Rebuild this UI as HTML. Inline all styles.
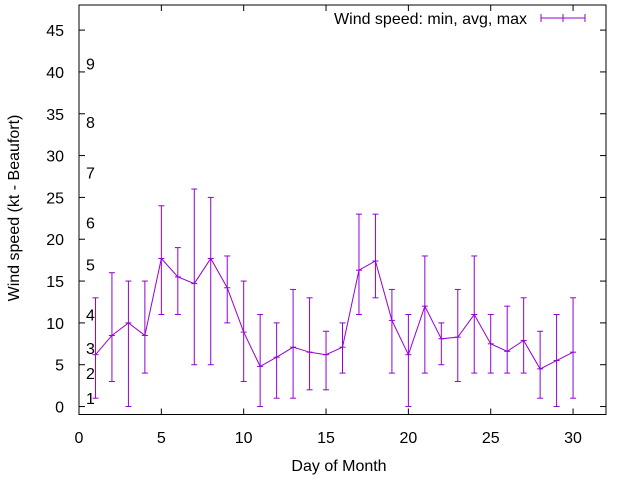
<!DOCTYPE html>
<html><head><meta charset="utf-8"><style>
html,body{margin:0;padding:0;background:#fff;}
svg{display:block;font-family:"Liberation Sans",sans-serif;}
</style></head><body>
<svg id="chart" width="640" height="480" viewBox="0 0 640 480" xmlns="http://www.w3.org/2000/svg">
<rect width="640" height="480" fill="#fff"/>
<g id="grid"></g>
<g id="beaufort"></g>
<g id="series"></g>
<rect x="79" y="5" width="527" height="409.5" fill="none" stroke="#000" stroke-width="1"/>
<text transform="translate(19,208) rotate(-90)" text-anchor="middle" font-size="16" fill="#000">Wind speed (kt - Beaufort)</text>
<text x="339" y="471" text-anchor="middle" font-size="16" fill="#000">Day of Month</text>
<g>
<text x="527" y="24" text-anchor="end" font-size="16" fill="#000">Wind speed: min, avg, max</text>
<line x1="541" y1="18" x2="585" y2="18" stroke="#9400d3" stroke-width="1"/>
<line x1="541" y1="14" x2="541" y2="22" stroke="#9400d3" stroke-width="1"/>
<line x1="585" y1="14" x2="585" y2="22" stroke="#9400d3" stroke-width="1"/>
<line x1="563" y1="14" x2="563" y2="22" stroke="#9400d3" stroke-width="1"/>
</g>
</svg>
<script>
const days = [1,2,3,4,5,6,7,8,9,10,11,12,13,14,15,16,17,18,19,20,21,22,23,24,25,26,27,28,29,30];
const avgSpeed = [6.2,8.5,10,8.5,17.7,15.5,14.7,17.7,14.2,8.9,4.8,5.9,7.1,6.5,6.2,7.1,16.3,17.4,10.3,6.2,12,8.1,8.3,11,7.5,6.6,7.9,4.5,5.5,6.5];
const minSpeed = [1,3,0,4,11,11,5,5,10,3,0,1,1,2,2,4,11,13,4,0,4,5,3,4,4,4,4,1,0,1];
const maxSpeed = [13,16,15,15,24,19,26,25,18,15,11,10,14,13,9,10,23,23,14,11,18,10,14,18,11,12,13,9,11,13];
const xTicks = [0,5,10,15,20,25,30];
const yTicks = [0,5,10,15,20,25,30,35,40,45];
const beaufortLabels = ["1","2","3","4","5","6","7","8","9"];
const beaufortValues = [1,4,7,11,17,22,28,34,41];

const X0=79, X1=606, XMIN=0, XMAX=32;
const Y0=414.5, Y1=5, YMIN=-0.95, YMAX=48;
function xs(v){return X0+(v-XMIN)/(XMAX-XMIN)*(X1-X0);}
function ys(v){return Y0-(v-YMIN)/(YMAX-YMIN)*(Y0-Y1);}
const NS="http://www.w3.org/2000/svg";
function mk(tag,attrs,parent){const e=document.createElementNS(NS,tag);for(const k in attrs)e.setAttribute(k,attrs[k]);parent.appendChild(e);return e;}
const grid=document.getElementById('grid');
xTicks.forEach(t=>{
  const x=xs(t);
  const g=mk('g',{},grid);
  
  
  mk('line',{x1:x,y1:Y0,x2:x,y2:Y0-6,stroke:'#000'},g);
  mk('line',{x1:x,y1:Y1,x2:x,y2:Y1+6,stroke:'#000'},g);
  const tx=mk('text',{x:x,y:443,'text-anchor':'middle','font-size':16,fill:'#000'},g);
  tx.textContent=t;
});
yTicks.forEach(t=>{
  const y=ys(t);
  const g=mk('g',{},grid);
  
  
  mk('line',{x1:X0,y1:y,x2:X0+6,y2:y,stroke:'#000'},g);
  mk('line',{x1:X1,y1:y,x2:X1-6,y2:y,stroke:'#000'},g);
  const tx=mk('text',{x:64,y:y+6,'text-anchor':'end','font-size':16,fill:'#000'},g);
  tx.textContent=t;
});
const bf=document.getElementById('beaufort');
beaufortLabels.forEach((l,i)=>{
  const tx=mk('text',{x:86,y:ys(beaufortValues[i])+6,'font-size':16,fill:'#000'},bf);
  
  
  tx.textContent=l;
});
const s=document.getElementById('series');
const C='#9400d3';
days.forEach((d,i)=>{
  const x=xs(d);
  const g=mk('g',{stroke:C,'stroke-width':1},s);
  
  
  mk('line',{x1:x,y1:ys(minSpeed[i]),x2:x,y2:ys(maxSpeed[i])},g);
  mk('line',{x1:x-3,y1:ys(minSpeed[i]),x2:x+3,y2:ys(minSpeed[i])},g);
  mk('line',{x1:x-3,y1:ys(maxSpeed[i]),x2:x+3,y2:ys(maxSpeed[i])},g);
  mk('line',{x1:x-3,y1:ys(avgSpeed[i]),x2:x+3,y2:ys(avgSpeed[i])},g);
});
const pts=days.map((d,i)=>xs(d)+','+ys(avgSpeed[i])).join(' ');
const pl=mk('polyline',{points:pts,fill:'none',stroke:C,'stroke-width':1},s);


</script>
</body></html>
